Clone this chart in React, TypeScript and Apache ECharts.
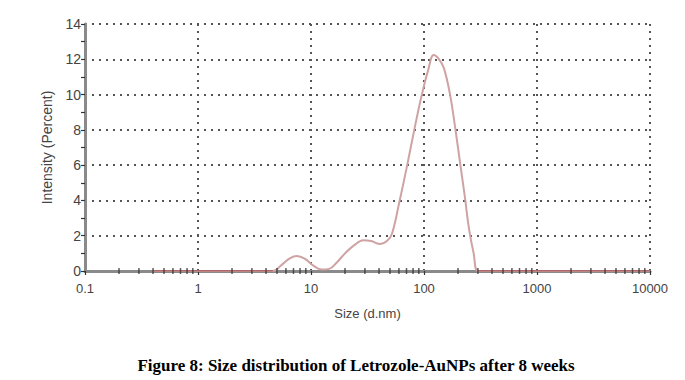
import React, { useEffect, useRef } from "react";
import * as echarts from "echarts";

const sizes = [0.4, 1, 2, 4.6, 5.5, 6.5, 7.5, 8.8, 10.5, 12.5, 14.5, 17, 20, 24, 29, 34, 41, 47, 52, 60, 70, 82, 95, 109, 122, 136, 150, 170, 190, 210, 230, 250, 275, 302, 400, 1000, 10000];
const intensity = [0, 0, 0, 0, 0.35, 0.72, 0.85, 0.7, 0.3, 0.08, 0.12, 0.5, 1.0, 1.45, 1.75, 1.7, 1.53, 1.7, 2.1, 3.8, 5.8, 8.0, 9.9, 11.4, 12.24, 12.0, 11.5, 10.0, 8.0, 6.0, 4.2, 2.4, 1.0, 0, 0, 0, 0];

const baselineSizes = [0.4, 4.6, null, 302, 10000];
const minorTickSizes = [
  0.2, 0.3, 0.4, 0.5, 0.6, 0.7, 0.8, 0.9,
  2, 3, 4, 5, 6, 7, 8, 9,
  20, 30, 40, 50, 60, 70, 80, 90,
  200, 300, 400, 500, 600, 700, 800, 900,
  2000, 3000, 4000, 5000, 6000, 7000, 8000, 9000,
];
const xLabels = ["0.1", "1", "10", "100", "1000", "10000"];
const yTicks = [0, 2, 4, 6, 8, 10, 12, 14];
const caption = "Figure 8: Size distribution of Letrozole-AuNPs after 8 weeks";

export default function App() {
  const ref = useRef<HTMLDivElement>(null);
  useEffect(() => {
    if (!ref.current) return;
    const chart = echarts.init(ref.current, null, { renderer: "svg" });
    const font = "Liberation Sans, Arial, sans-serif";
    chart.setOption({
      animation: false,
      backgroundColor: "#ffffff",
      graphic: [
        {
          type: "text",
          x: 356,
          y: 365,
          style: {
            text: caption,
            align: "center",
            verticalAlign: "middle",
            fontFamily: "Liberation Serif, Times New Roman, serif",
            fontWeight: "bold",
            fontSize: 17,
            fill: "#000",
          },
        },
      ],
      grid: { left: 85, right: 35, top: 24, bottom: 109, containLabel: false },
      xAxis: {
        type: "log",
        logBase: 10,
        min: 0.1,
        max: 10000,
        name: "Size (d.nm)",
        nameLocation: "middle",
        nameGap: 36,
        nameTextStyle: { fontFamily: font, fontSize: 13, color: "#444" },
        axisLine: { lineStyle: { color: "#8a8a8a", width: 3 } },
        axisTick: { show: true, length: 4, inside: false, lineStyle: { color: "#333", width: 1.2 } },
        axisLabel: {
          fontFamily: font,
          fontSize: 13,
          color: "#444",
          margin: 11,
          formatter: (v: number) => {
            const i = Math.round(Math.log10(v)) + 1;
            return xLabels[i] ?? String(v);
          },
        },
        splitLine: { show: true, lineStyle: { color: "#555", width: 2, type: [2, 5] } },
      },
      yAxis: {
        type: "value",
        min: 0,
        max: 14,
        interval: 2,
        name: "Intensity (Percent)",
        nameLocation: "middle",
        nameGap: 31,
        nameTextStyle: { fontFamily: font, fontSize: 14, color: "#444" },
        axisLine: { show: true, lineStyle: { color: "#8a8a8a", width: 3 } },
        axisTick: { show: true, length: 4, lineStyle: { color: "#333", width: 1.2 } },
        minorTick: { show: true, splitNumber: 2, length: 4, lineStyle: { color: "#333", width: 1.2 } },
        axisLabel: {
          fontFamily: font,
          fontSize: 14,
          color: "#444",
          margin: 4,
          formatter: (v: number) => (yTicks.includes(v) ? String(v) : ""),
        },
        splitLine: { show: true, lineStyle: { color: "#555", width: 2, type: [2, 5] } },
      },
      series: [
        {
          type: "line",
          data: sizes.map((s, i) => [s, intensity[i]]),
          smooth: 0.4,
          showSymbol: false,
          lineStyle: { color: "#cfa3a3", width: 2 },
          z: 3,
        },
        {
          type: "line",
          data: baselineSizes.map((s) => (s === null ? [null, null] : [s, 0])),
          connectNulls: false,
          showSymbol: false,
          lineStyle: { color: "#8a2e2e", width: 1.2 },
          z: 4,
        },
        {
          type: "scatter",
          data: minorTickSizes.map((s) => [s, 0]),
          symbol: "rect",
          symbolSize: [1.5, 6],
          itemStyle: { color: "#333" },
          silent: true,
          z: 5,
        },
      ],
    });
    return () => chart.dispose();
  }, []);
  return <div ref={ref} style={{ width: 685, height: 380, position: "absolute", left: 0, top: 0 }} />;
}
